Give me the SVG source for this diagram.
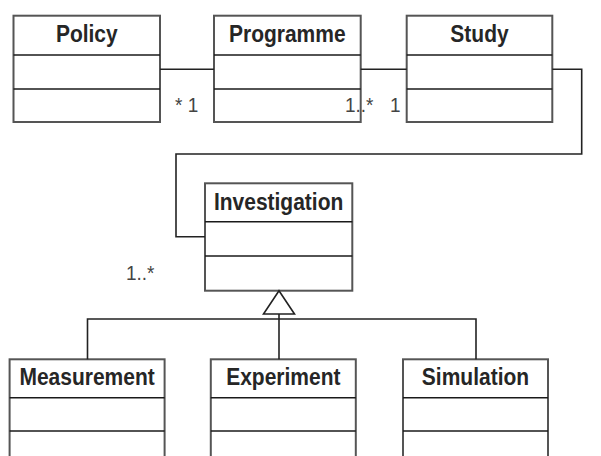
<svg xmlns="http://www.w3.org/2000/svg" width="601" height="456" viewBox="0 0 601 456">
<style>
.box{fill:#fff;stroke:#555;stroke-width:2}
.div{stroke:#1a1a1a;stroke-width:1.6;fill:none}
.conn{stroke:#222;stroke-width:1.6;fill:none}
.title{font-family:"Liberation Sans",Arial,sans-serif;font-weight:bold;font-size:21px;fill:#262626;text-anchor:middle}
.mult{font-family:"Liberation Sans",Arial,sans-serif;font-size:19px;fill:#444}
</style>
<rect width="601" height="456" fill="#fff"/>
<g id="policy">
<rect class="box" x="13.5" y="15.7" width="146.5" height="106.3"/>
<line class="div" x1="13.5" y1="55" x2="160" y2="55"/>
<line class="div" x1="13.5" y1="89" x2="160" y2="89"/>
<text class="title" transform="translate(86.8,42) scale(1,1.12)">Policy</text>
</g>
<g id="programme">
<rect class="box" x="214" y="15.7" width="146.7" height="106.3"/>
<line class="div" x1="214" y1="55" x2="360.7" y2="55"/>
<line class="div" x1="214" y1="89" x2="360.7" y2="89"/>
<text class="title" transform="translate(287.3,42) scale(1,1.12)">Programme</text>
</g>
<g id="study">
<rect class="box" x="406.7" y="15.7" width="145.6" height="106.3"/>
<line class="div" x1="406.7" y1="55" x2="552.3" y2="55"/>
<line class="div" x1="406.7" y1="89" x2="552.3" y2="89"/>
<text class="title" transform="translate(479.5,42) scale(1,1.12)">Study</text>
</g>
<g id="investigation">
<rect class="box" x="205" y="183.3" width="147.3" height="107.4"/>
<line class="div" x1="205" y1="221.7" x2="352.3" y2="221.7"/>
<line class="div" x1="205" y1="256" x2="352.3" y2="256"/>
<text class="title" transform="translate(278.6,209.5) scale(1,1.12)">Investigation</text>
</g>
<g id="measurement">
<rect class="box" x="9.6" y="359.3" width="155" height="110"/>
<line class="div" x1="9.6" y1="397.7" x2="164.6" y2="397.7"/>
<line class="div" x1="9.6" y1="431" x2="164.6" y2="431"/>
<text class="title" transform="translate(87.1,385) scale(1,1.12)">Measurement</text>
</g>
<g id="experiment">
<rect class="box" x="210.8" y="359.3" width="145" height="110"/>
<line class="div" x1="210.8" y1="397.7" x2="355.8" y2="397.7"/>
<line class="div" x1="210.8" y1="431" x2="355.8" y2="431"/>
<text class="title" transform="translate(283.3,385) scale(1,1.12)">Experiment</text>
</g>
<g id="simulation">
<rect class="box" x="403" y="359.3" width="145" height="110"/>
<line class="div" x1="403" y1="397.7" x2="548" y2="397.7"/>
<line class="div" x1="403" y1="431" x2="548" y2="431"/>
<text class="title" transform="translate(475.5,385) scale(1,1.12)">Simulation</text>
</g>
<g id="connectors">
<line class="conn" x1="160" y1="69.3" x2="214" y2="69.3"/>
<line class="conn" x1="360.7" y1="69.3" x2="406.7" y2="69.3"/>
<polyline class="conn" points="552.3,69.3 581.7,69.3 581.7,154 176,154 176,236.7 205,236.7"/>
<polygon points="279,290.7 263.5,314 294.5,314" fill="#fff" stroke="#222" stroke-width="1.6"/>
<line class="conn" x1="279" y1="314" x2="279" y2="359.3"/>
<polyline class="conn" points="87.5,359.3 87.5,319 476,319 476,359.3"/>
<text class="mult" transform="translate(175,112) scale(1,1.1)">* 1</text>
<text class="mult" transform="translate(345,112) scale(1,1.1)">1..*</text>
<text class="mult" transform="translate(390,112) scale(1,1.1)">1</text>
<text class="mult" transform="translate(126,280) scale(1,1.1)">1..*</text>
</g>
</svg>
